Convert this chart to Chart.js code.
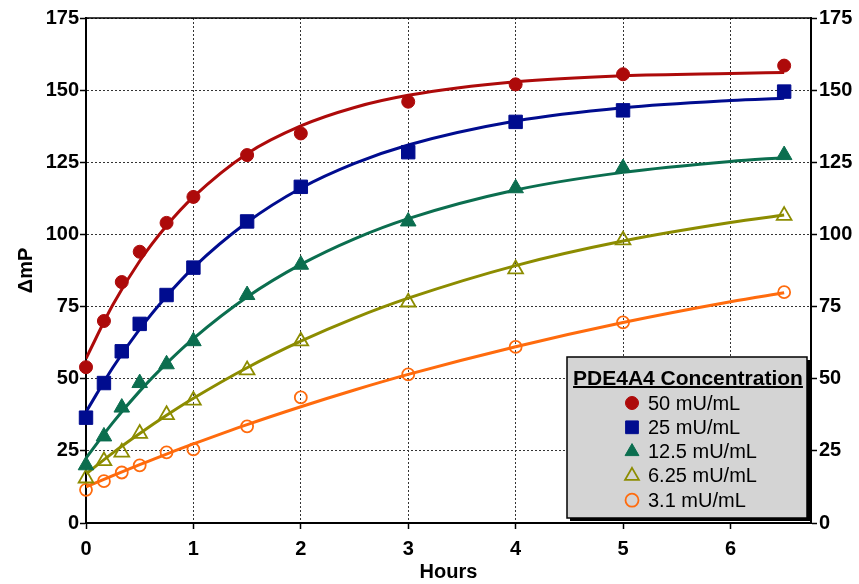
<!DOCTYPE html>
<html>
<head>
<meta charset="utf-8">
<title>PDE4A4 Concentration</title>
<script src="https://cdn.jsdelivr.net/npm/chart.js@4.4.1/dist/chart.umd.min.js"></script>
<style>
  html, body { margin: 0; padding: 0; background: #fff; }
</style>
</head>
<body>
<canvas id="chart" width="859" height="584"></canvas>
<script>
// Sample times (hours) and measured ΔmP for each enzyme concentration
const hours = [0, 0.167, 0.333, 0.5, 0.75, 1, 1.5, 2, 3, 4, 5, 6.5];
const conc50 = [54, 70, 83.5, 94, 104, 113, 127.5, 135, 146, 152, 155.5, 158.5];
const conc25 = [36.5, 48.5, 59.5, 69, 79, 88.5, 104.5, 116.5, 128.5, 139, 143, 149.5];
const conc12_5 = [20, 30, 40, 48.5, 55, 63, 79, 89.5, 104.5, 116, 123, 127.5];
const conc6_25 = [15.5, 21.5, 24.5, 31, 37.5, 42.5, 53, 63, 76.5, 88, 98, 106.5];
const conc3_1 = [11.5, 14.5, 17.5, 20, 24.5, 25.5, 33.5, 43.5, 51.5, 61, 69.5, 80];

// Fitted curves at these times
const fitHours = [0, 0.25, 0.5, 0.75, 1, 1.5, 2, 2.5, 3, 4, 5, 6, 6.5];
const fit50 = [57, 75.6, 90.8, 103, 113, 128, 137.6, 144, 148.2, 152.9, 155, 155.8, 156.1];
const fit25 = [38.5, 53.9, 67.2, 78.6, 88.5, 104.2, 116, 124.6, 131, 139.3, 143.9, 146.4, 147.2];
const fit12_5 = [22.5, 34.8, 45.7, 55.3, 63.9, 78.3, 89.6, 98.5, 105.5, 115.4, 121.5, 125.3, 126.6];
const fit6_25 = [17, 24.3, 31, 37.3, 43.2, 53.8, 63, 71, 77.9, 89.2, 97.7, 104.1, 106.7];
const fit3_1 = [12.5, 16.4, 20.2, 23.9, 27.4, 34.1, 40.3, 46.1, 51.5, 61.1, 69.5, 76.7, 79.8];

const seriesLabels = ['50 mU/mL', '25 mU/mL', '12.5 mU/mL', '6.25 mU/mL', '3.1 mU/mL'];
const legendTitle = 'PDE4A4 Concentration';
const yTicks = [0, 25, 50, 75, 100, 125, 150, 175];

const FONT = '"Liberation Sans", Arial, Helvetica, sans-serif';

// marker styles per series
const styles = [
  { color: '#ad0a0a', shape: 'circle', radius: 6.5, open: false },
  { color: '#000c8f', shape: 'rect', radius: 9.5, open: false },
  { color: '#0b6e4f', shape: 'triangle', radius: 9, open: false },
  { color: '#8c8c00', shape: 'triangle', radius: 8.5, open: true },
  { color: '#ff6b0d', shape: 'circle', radius: 6, open: true },
];

const measured = [conc50, conc25, conc12_5, conc6_25, conc3_1];
const fits = [fit50, fit25, fit12_5, fit6_25, fit3_1];

const toPoints = (xs, ys) => xs.map((x, i) => ({ x: x, y: ys[i] }));

const datasets = [];
measured.forEach((ys, i) => {
  const s = styles[i];
  datasets.push({
    label: seriesLabels[i],
    data: toPoints(hours, ys),
    showLine: false,
    clip: false,
    pointStyle: s.shape,
    pointRadius: s.radius,
    pointBorderWidth: s.open ? 1.8 : 1,
    pointBackgroundColor: s.open ? 'rgba(0,0,0,0)' : s.color,
    pointBorderColor: s.color,
    order: 0,
  });
});
fits.forEach((ys, i) => {
  datasets.push({
    label: seriesLabels[i] + ' fit',
    data: toPoints(fitHours, ys),
    showLine: true,
    borderColor: styles[i].color,
    borderWidth: 3,
    pointRadius: 0,
    cubicInterpolationMode: 'monotone',
    order: 1,
  });
});

// draws the solid top frame line and the boxed legend inside the plot
const frameAndLegend = {
  id: 'frameAndLegend',
  afterDraw(chart) {
    const ctx = chart.ctx;
    const ca = chart.chartArea;
    ctx.save();
    ctx.strokeStyle = '#000';
    ctx.lineWidth = 1.5;
    ctx.beginPath();
    ctx.moveTo(ca.left, ca.top);
    ctx.lineTo(ca.right, ca.top);
    ctx.stroke();

    // legend box
    const w = 240, h = 161;
    const left = ca.right - 4 - w;
    const top = ca.bottom - 5 - h;
    ctx.fillStyle = '#000';
    ctx.fillRect(left + 3, top + 3, w, h);
    ctx.fillStyle = '#d4d4d4';
    ctx.fillRect(left, top, w, h);
    ctx.strokeStyle = '#000';
    ctx.lineWidth = 1.5;
    ctx.strokeRect(left, top, w, h);

    ctx.fillStyle = '#000';
    ctx.font = 'bold 21px ' + FONT;
    ctx.textAlign = 'center';
    ctx.textBaseline = 'alphabetic';
    const cx = left + w / 2 + 1;
    ctx.fillText(legendTitle, cx, top + 28);
    const tw = ctx.measureText(legendTitle).width;
    ctx.fillRect(cx - tw / 2, top + 29, tw, 2);

    ctx.font = '20px ' + FONT;
    ctx.textAlign = 'left';
    ctx.textBaseline = 'middle';
    seriesLabels.forEach((lab, i) => {
      const s = styles[i];
      const y = top + 46 + i * 24.3;
      const x = left + 65;
      ctx.fillStyle = s.open ? 'rgba(0,0,0,0)' : s.color;
      ctx.strokeStyle = s.color;
      ctx.lineWidth = s.open ? 1.8 : 1;
      Chart.helpers.drawPoint(ctx, {
        pointStyle: s.shape,
        radius: s.shape === 'rect' ? 9 : (s.shape === 'triangle' ? 8 : 6.5),
        rotation: 0,
        borderWidth: ctx.lineWidth,
      }, x, y);
      ctx.fillStyle = '#000';
      ctx.fillText(lab, left + 81, y + 1);
    });
    ctx.restore();
  }
};

const tickFont = { family: FONT, size: 20, weight: 'bold' };

new Chart(document.getElementById('chart'), {
  type: 'scatter',
  data: { datasets: datasets },
  options: {
    responsive: false,
    animation: false,
    events: [],
    layout: { padding: { top: 18, right: 0, bottom: 0, left: 0 } },
    plugins: {
      legend: { display: false },
      tooltip: { enabled: false },
    },
    scales: {
      x: {
        type: 'linear',
        min: 0,
        max: 6.75,
        afterBuildTicks: s => { s.ticks = s.ticks.filter(t => Number.isInteger(t.value)); },
        afterFit: s => { s.height = 61; },
        ticks: { stepSize: 1, color: '#000', font: tickFont, padding: 8, maxRotation: 0 },
        grid: { color: '#333', lineWidth: 1, tickLength: 6, tickColor: '#000', tickWidth: 1.5 },
        border: { color: '#000', width: 2, dash: [2, 2] },
        title: { display: true, text: 'Hours', color: '#000', font: tickFont, padding: { top: 0, bottom: 0 } },
      },
      y: {
        min: 0,
        max: 175,
        afterBuildTicks: s => { s.ticks = yTicks.map(v => ({ value: v })); },
        afterFit: s => { s.width = 86; },
        ticks: { color: '#000', font: tickFont, padding: 1 },
        grid: { color: '#333', lineWidth: 1, tickLength: 6, tickColor: '#000', tickWidth: 1.5 },
        border: { color: '#000', width: 2, dash: [2, 2] },
        title: { display: true, text: 'ΔmP', color: '#000', font: tickFont, padding: { top: 14, bottom: 0 } },
      },
      y2: {
        position: 'right',
        min: 0,
        max: 175,
        afterBuildTicks: s => { s.ticks = yTicks.map(v => ({ value: v })); },
        afterFit: s => { s.width = 48; },
        ticks: { color: '#000', font: tickFont, padding: 2 },
        grid: { drawOnChartArea: false, tickLength: 6, tickColor: '#000', tickWidth: 1.5 },
        border: { color: '#000', width: 2 },
      },
    },
  },
  plugins: [frameAndLegend],
});
</script>
</body>
</html>
